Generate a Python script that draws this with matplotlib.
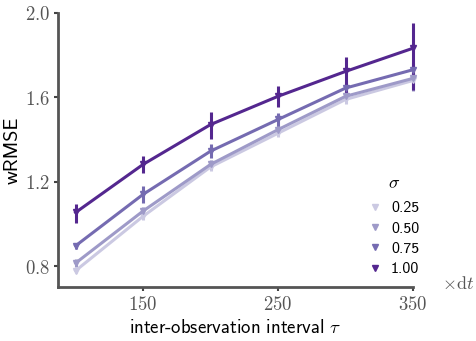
import numpy as np
import matplotlib
matplotlib.use("Agg")
import matplotlib.pyplot as plt

plt.rcParams["mathtext.fontset"] = "cm"
plt.rcParams["axes.unicode_minus"] = False

tau = [100, 150, 200, 250, 300, 350]
sigmas = ["0.25", "0.50", "0.75", "1.00"]
colors = ["#cbc9e2", "#9e9ac8", "#756bb1", "#54278f"]

wrmse = {
    "0.25": [0.778, 1.036, 1.27, 1.43, 1.59, 1.68],
    "0.50": [0.814, 1.061, 1.282, 1.447, 1.605, 1.69],
    "0.75": [0.896, 1.14, 1.345, 1.495, 1.644, 1.731],
    "1.00": [1.054, 1.282, 1.471, 1.605, 1.723, 1.833],
}
err_lo = {
    "0.25": [0.01, 0.02, 0.02, 0.02, 0.02, 0.03],
    "0.50": [0.02, 0.02, 0.02, 0.02, 0.02, 0.06],
    "0.75": [0.015, 0.04, 0.035, 0.03, 0.03, 0.04],
    "1.00": [0.05, 0.04, 0.07, 0.05, 0.12, 0.2],
}
err_hi = {
    "0.25": [0.01, 0.02, 0.02, 0.02, 0.02, 0.02],
    "0.50": [0.02, 0.02, 0.02, 0.02, 0.02, 0.03],
    "0.75": [0.015, 0.04, 0.035, 0.03, 0.03, 0.03],
    "1.00": [0.04, 0.04, 0.06, 0.05, 0.07, 0.12],
}

fig = plt.figure(figsize=(4.76, 3.41), dpi=100)
ax = fig.add_axes([0.122, 0.158, 0.746, 0.804])

for s, c in zip(sigmas, colors):
    y = np.array(wrmse[s])
    eb = ax.errorbar(tau, y, yerr=[err_lo[s], err_hi[s]], color=c, lw=2.2,
                     elinewidth=2.2, capsize=0, marker="v", ms=4.5, label=s)
    for art in eb.lines[0:1] + tuple(eb.lines[2]):
        art.set_clip_on(False)

ax.set_xlim(87, 350)
ax.set_ylim(0.7, 2.0)
ax.set_xticks([150, 250, 350])
ax.set_xticklabels(["$150$", "$250$", "$350$"])
ax.set_yticks([0.8, 1.2, 1.6, 2.0])
ax.set_yticklabels(["$0.8$", "$1.2$", "$1.6$", "$2.0$"])
ax.tick_params(labelsize=13.5, colors="#444444", length=3, width=1.5,
               labelcolor="#555555", pad=3)

for side in ["top", "right"]:
    ax.spines[side].set_visible(False)
for side in ["left", "bottom"]:
    ax.spines[side].set_color("#555555")
    ax.spines[side].set_linewidth(2)

ax.set_xlabel(r"inter-observation interval $\tau$", fontsize=13.5,
              family="cmss10", labelpad=3)
ax.set_ylabel("wRMSE", fontsize=14.5, family="cmss10", labelpad=2)
ax.text(1.082, 0.01, r"$\times\mathrm{d}t$", transform=ax.transAxes,
        fontsize=13, color="#555555", va="center", ha="left")

handles = [plt.Line2D([], [], color=c, marker="v", ls="none", ms=4.5) for c in colors]
leg = ax.legend(handles, sigmas, loc="lower left",
                frameon=False, prop={"family": "cmss10", "size": 11.5},
                handlelength=1.0, handletextpad=0.5, labelspacing=0.38,
                borderaxespad=0.0, borderpad=0.0,
                bbox_to_anchor=(0.87, 0.04))
ax.text(0.93, 0.38, r"$\sigma$", transform=ax.transAxes, fontsize=13,
        va="center", ha="left")

fig.savefig("out.png", dpi=100)
